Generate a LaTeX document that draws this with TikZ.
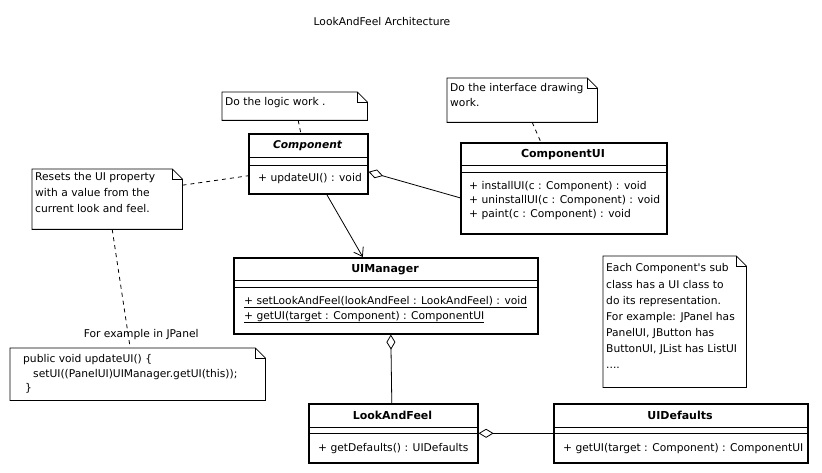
\documentclass[tikz,border=0pt]{standalone}
\usepackage{fontspec}
\setmainfont{DejaVu Sans}
\usetikzlibrary{arrows.meta,calc}
\newcommand\drawnotefold[1]{%
  \draw[notel] (#1.north west) -- ([xshift=-10pt]#1.north east) -- ([yshift=-10pt]#1.north east) -- (#1.south east) -- (#1.south west) -- cycle;
  \draw[notel] ([xshift=-10pt]#1.north east) -- ([xshift=-10pt,yshift=-10pt]#1.north east) -- ([yshift=-10pt]#1.north east);}
\begin{document}
\begin{tikzpicture}[x=1pt,y=-1pt,
  font=\fontsize{10.7}{12}\selectfont,
  cls/.style={draw, line width=1.6pt, inner sep=0, anchor=north west},
  sepl/.style={line width=0.8pt},
  notebg/.style={draw=none, inner sep=0, anchor=north west},
  notel/.style={line width=0.8pt},
  txt/.style={inner sep=0, anchor=base west},
  ctxt/.style={inner sep=0, anchor=base},
  bname/.style={ctxt, font=\fontsize{11}{12}\selectfont\bfseries},
  dashl/.style={line width=0.8pt, dash pattern=on 4pt off 4pt},
  conn/.style={line width=0.8pt},
  agg/.style={conn, {Diamond[open,length=15pt,width=9pt]}-},
  dep/.style={conn, -{Straight Barb[length=8pt,width=11pt]}}]
\useasboundingbox[fill=white] (0,0) rectangle (822,473);

% title
\node[ctxt] (title) at (382,26) {LookAndFeel Architecture};

% notes
\node[notebg, minimum width=145pt, minimum height=28pt] (n1) at (222,92) {};
\drawnotefold{n1}
\node[txt] (n1t) at (225,105.5) {Do the logic work .};

\node[notebg, minimum width=150pt, minimum height=44pt] (n2) at (447,78) {};
\drawnotefold{n2}
\node[txt] (n2t1) at (450,92) {Do the interface drawing};
\node[txt] (n2t2) at (450,107) {work.};

\node[notebg, minimum width=150pt, minimum height=60pt] (n3) at (32,169) {};
\drawnotefold{n3}
\node[txt] (n3t1) at (35,181) {Resets the UI property};
\node[txt] (n3t2) at (35,197) {with a value from the};
\node[txt] (n3t3) at (35,213) {current look and feel.};

\node[notebg, minimum width=255pt, minimum height=52pt] (n4) at (10,348) {};
\drawnotefold{n4}
\node[txt] (n4t1) at (23,362) {public void updateUI() \{};
\node[txt] (n4t2) at (33,377) {setUI((PanelUI)UIManager.getUI(this));};
\node[txt] (n4t3) at (25,391) {\}};

\node[notebg, minimum width=143pt, minimum height=131pt] (n5) at (603,256) {};
\drawnotefold{n5}
\node[txt] (n5t1) at (606,272) {Each Component\textquotesingle s sub};
\node[txt] (n5t2) at (606,288) {class has a UI class to};
\node[txt] (n5t3) at (606,304) {do its representation.};
\node[txt] (n5t4) at (606,320) {For example: JPanel has};
\node[txt] (n5t5) at (606,336) {PanelUI, JButton has};
\node[txt] (n5t6) at (606,352) {ButtonUI, JList has ListUI};
\node[txt] (n5t7) at (606,368) {....};

% classes
\node[cls, minimum width=119pt, minimum height=60pt] (comp) at (248,133) {};
\draw[sepl] (248,157) -- (367,157) (248,165) -- (367,165);
\node[ctxt, font=\fontsize{10.7}{12}\selectfont\bfseries\itshape] (compn) at (307.5,149) {Component};
\node[txt] (compm) at (258,182) {+ updateUI() : void};

\node[cls, minimum width=206pt, minimum height=91pt] (cui) at (460,142) {};
\draw[sepl] (460,165) -- (666,165) (460,172) -- (666,172);
\node[bname] (cuin) at (563,157.5) {ComponentUI};
\node[txt] (cuim1) at (469,190) {+ installUI(c : Component) : void};
\node[txt] (cuim2) at (469,204) {+ uninstallUI(c : Component) : void};
\node[txt] (cuim3) at (469,218) {+ paint(c : Component) : void};

\node[cls, minimum width=304pt, minimum height=76pt] (uim) at (233,257) {};
\draw[sepl] (233,280) -- (537,280) (233,287) -- (537,287);
\node[bname] (uimn) at (385,272.5) {UIManager};
\node[txt] (uimm1) at (244,304) {\underline{+ setLookAndFeel(lookAndFeel : LookAndFeel) : void}};
\node[txt] (uimm2) at (244,319) {\underline{+ getUI(target : Component) : ComponentUI}};

\node[cls, minimum width=169pt, minimum height=59pt] (laf) at (308,403) {};
\draw[sepl] (308,427) -- (477,427) (308,433) -- (477,433);
\node[bname] (lafn) at (392.5,419) {LookAndFeel};
\node[txt] (lafm) at (318,451) {+ getDefaults() : UIDefaults};

\node[cls, minimum width=254pt, minimum height=59pt] (uid) at (553,403) {};
\draw[sepl] (553,427) -- (807,427) (553,433) -- (807,433);
\node[bname] (uidn) at (680,419) {UIDefaults};
\node[txt] (uidm) at (563,451) {+ getUI(target : Component) : ComponentUI};

% connectors
\draw[dashl] ([xshift=3.5pt]n1.south) -- ([xshift=-7.5pt]comp.north);
\draw[dashl] ([xshift=10pt]n2.south) -- ([xshift=-23pt]cui.north);
\draw[dashl] ([yshift=14pt]n3.east) -- ([yshift=-12pt]comp.west);
\draw[dashl] ([xshift=5pt]n3.south) -- ([xshift=-7.5pt]n4.north)
  node[at end, inner sep=0, anchor=base, xshift=11pt, yshift=11pt] (lbl) {For example in JPanel};
\draw[dep] ([xshift=18.5pt]comp.south) -- ([xshift=-23pt]uim.north);
\draw[agg] ([yshift=-8pt]comp.east) -- ([yshift=-9.5pt]cui.west);
\draw[agg] ([xshift=5pt]uim.south) -- ([xshift=-1.5pt]laf.north);
\draw[agg] (laf.east) -- (uid.west);
\end{tikzpicture}
\end{document}
